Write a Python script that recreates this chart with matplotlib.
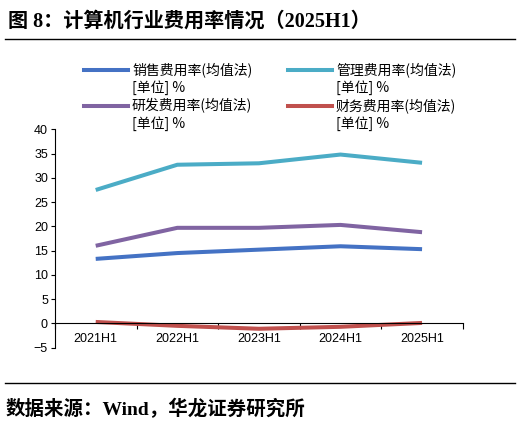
import matplotlib
matplotlib.use("Agg")
import matplotlib.pyplot as plt
from matplotlib.lines import Line2D

plt.rcParams['font.family'] = ['Liberation Sans', 'Noto Sans CJK SC']

# 数据
periods = ["2021H1", "2022H1", "2023H1", "2024H1", "2025H1"]
sales_rate = [13.3, 14.5, 15.2, 15.9, 15.3]      # 销售费用率
admin_rate = [27.5, 32.7, 33.0, 34.8, 33.1]      # 管理费用率
rd_rate = [16.0, 19.7, 19.7, 20.3, 18.8]         # 研发费用率
finance_rate = [0.3, -0.5, -1.1, -0.7, 0.1]      # 财务费用率
yticks = [-5, 0, 5, 10, 15, 20, 25, 30, 35, 40]

series = [
    ("销售费用率(均值法)", sales_rate, "#4472C4"),
    ("管理费用率(均值法)", admin_rate, "#4BACC6"),
    ("研发费用率(均值法)", rd_rate, "#8064A2"),
    ("财务费用率(均值法)", finance_rate, "#C0504D"),
]
unit_text = "[单位] %"

W, H = 523, 424
fig = plt.figure(figsize=(W / 100, H / 100), dpi=100)
ax = fig.add_axes([0.105, 0.18, 0.78, 0.515])

x = list(range(len(periods)))
for label, vals, color in series:
    ax.plot(x, vals, color=color, lw=2.9, solid_capstyle='butt')

ax.set_xlim(-0.5, 4.5)
ax.set_ylim(-5, 40)
ax.set_yticks(yticks)
ax.set_yticklabels([str(v).replace('-', '\u2212') for v in yticks], fontsize=9)
ax.tick_params(axis='y', length=3, width=0.8, pad=2)

ax.spines['top'].set_visible(False)
ax.spines['right'].set_visible(False)
ax.spines['bottom'].set_position(('data', 0))
ax.spines['bottom'].set_linewidth(0.8)
ax.spines['left'].set_linewidth(0.8)

ax.set_xticks(x)
ax.set_xticklabels(periods, fontsize=9)
ax.set_xticks([i - 0.5 for i in range(len(periods) + 1)], minor=True)
ax.tick_params(axis='x', which='major', length=0, pad=7)
ax.tick_params(axis='x', which='minor', length=4, width=0.8, direction='out')

# 图例（手动排版：句柄与第一行文字对齐）
legend_font = {'family': ['Noto Sans CJK SC'], 'size': 10}
col_x = [84, 288]
row_y = [70, 106]
for i, (label, _, color) in enumerate(series):
    cx = col_x[i % 2]
    ry = row_y[i // 2]
    fig.add_artist(Line2D([cx / W, (cx + 44) / W], [1 - ry / H, 1 - ry / H],
                          color=color, lw=2.9))
    fig.text((cx + 48) / W, 1 - ry / H, label, va='center', ha='left',
             **legend_font)
    fig.text((cx + 48) / W, 1 - (ry + 18) / H, unit_text, va='center',
             ha='left', **legend_font)

# 标题及来源
fig.text(0.015, 0.948, "图 8：计算机行业费用率情况（2025H1）", fontsize=14.5,
         fontweight='bold', family=['Liberation Serif', 'Noto Sans CJK SC'],
         va='center')
fig.add_artist(Line2D([0.01, 0.985], [0.908, 0.908], color='black', lw=1))
fig.add_artist(Line2D([0.01, 0.985], [0.097, 0.097], color='black', lw=1))
fig.text(0.01, 0.036, "数据来源：Wind，华龙证券研究所", fontsize=14,
         fontweight='bold', family=['Liberation Serif', 'Noto Sans CJK SC'],
         va='center')

fig.savefig("out.png", dpi=100)
